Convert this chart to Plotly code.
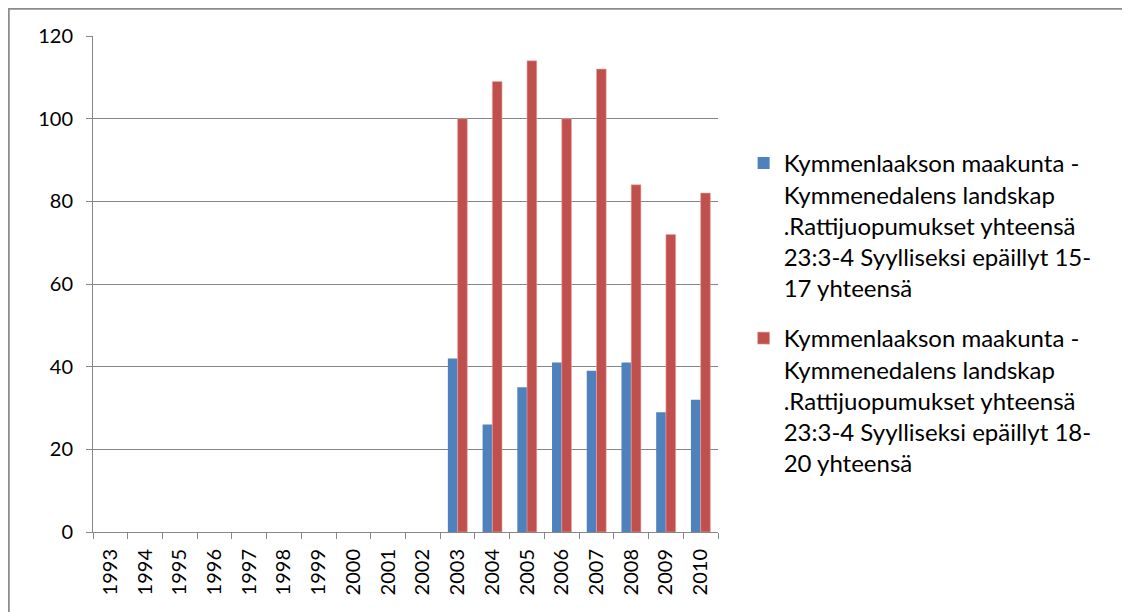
import plotly.graph_objects as go

years = [str(y) for y in range(1993, 2011)]
age_15_17 = [None] * 10 + [42, 26, 35, 41, 39, 41, 29, 32]
age_18_20 = [None] * 10 + [100, 109, 114, 100, 112, 84, 72, 82]

name_15_17 = ('Kymmenlaakson maakunta -<br>Kymmenedalens landskap<br>'
              '.Rattijuopumukset yhteensä<br>23:3-4 Syylliseksi epäillyt 15-<br>17 yhteensä')
name_18_20 = ('Kymmenlaakson maakunta -<br>Kymmenedalens landskap<br>'
              '.Rattijuopumukset yhteensä<br>23:3-4 Syylliseksi epäillyt 18-<br>20 yhteensä')

# page has an 8px body margin, so the figure is a bit smaller than the window
W, H = 1122, 604
L, R, T, B = 85, 412, 28, 80
pw = W - L - R
ph = H - T - B

fig = go.Figure()
fig.add_trace(go.Bar(x=years, y=age_15_17, name=name_15_17, legendgroup='a',
                     marker=dict(color='#4F81BD', line=dict(width=0))))
fig.add_trace(go.Bar(x=years, y=age_18_20, name=name_18_20, legendgroup='b',
                     marker=dict(color='#C0504D', line=dict(color='#E8A8A6', width=0.6))))

# chart frame, like the Excel chart border
fig.add_shape(type='rect', xref='paper', yref='paper',
              x0=(0.5 - L) / pw, x1=(1118.5 - L) / pw,
              y0=-(H + 20 - T - ph) / ph, y1=(H - 0.5 - B) / ph,
              line=dict(color='#8C8C8C', width=2.5), fillcolor='rgba(0,0,0,0)', layer='below')

fig.update_layout(
    width=W, height=H,
    margin=dict(l=L, r=R, t=T, b=B, autoexpand=False),
    paper_bgcolor='white',
    plot_bgcolor='white',
    barmode='group',
    bargap=0.44,
    bargroupgap=0,
    font=dict(family='Lato', color='#000000'),
    legend=dict(x=1.041, y=0.4415, yanchor='middle', xanchor='left', valign='top',
                font=dict(size=24), tracegroupgap=16, itemwidth=30),
    showlegend=True,
    xaxis=dict(type='category', tickangle=-90, tickfont=dict(size=20),
               showline=True, linecolor='#868686', linewidth=1,
               ticks='outside', tickson='boundaries', ticklen=6, tickcolor='#868686',
               ticklabelstandoff=8, showgrid=False),
    yaxis=dict(range=[0, 120], dtick=20, tickfont=dict(size=20),
               showline=True, linecolor='#868686', linewidth=1,
               ticks='outside', ticklen=6, tickcolor='#868686', ticklabelstandoff=9,
               gridcolor='#868686', gridwidth=1, zeroline=False),
)

fig.write_html('out.html')
